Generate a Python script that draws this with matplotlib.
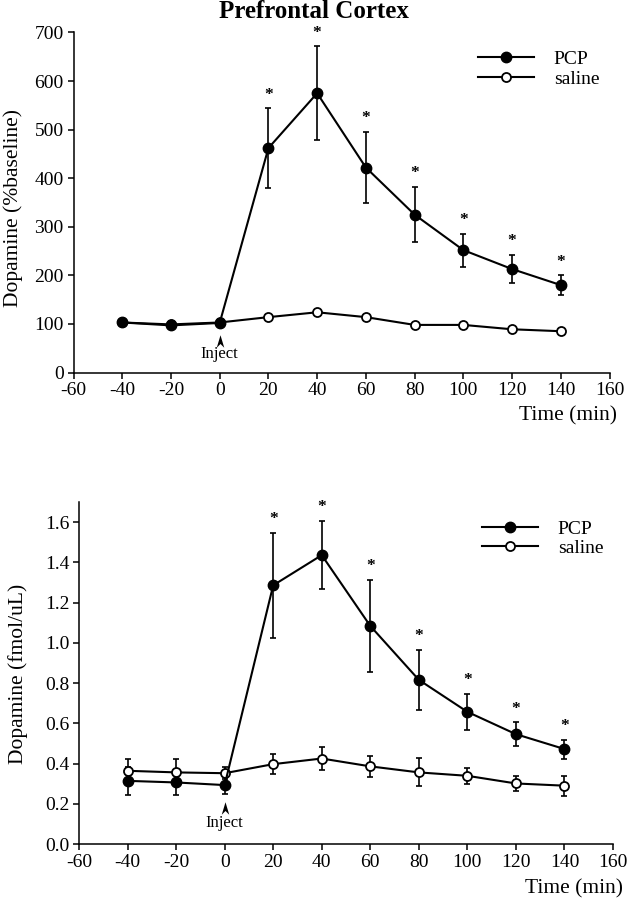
import matplotlib
matplotlib.use("Agg")
import matplotlib.pyplot as plt
import numpy as np
from matplotlib.path import Path

plt.rcParams['font.family'] = ['Liberation Serif', 'DejaVu Serif']
plt.rcParams['axes.unicode_minus'] = False

# ---- data ----
time_min = [-40, -20, 0, 20, 40, 60, 80, 100, 120, 140]

# top panel: % baseline
pcp_pct = [103, 97, 102, 462, 575, 422, 325, 252, 213, 180]
pcp_pct_err = [0, 0, 0, 82, 97, 74, 57, 34, 29, 20]
sal_pct = [103, 99, 103, 114, 124, 114, 98, 98, 89, 85]
sal_pct_err = [0, 0, 0, 0, 0, 0, 0, 0, 0, 0]
pct_stars = [20, 40, 60, 80, 100, 120, 140]

# bottom panel: fmol/uL
pcp_fmol = [0.314, 0.306, 0.293, 1.286, 1.436, 1.084, 0.816, 0.657, 0.546, 0.472]
pcp_fmol_err = [0.07, 0.06, 0.045, 0.26, 0.17, 0.23, 0.15, 0.09, 0.06, 0.047]
sal_fmol = [0.364, 0.356, 0.352, 0.397, 0.425, 0.386, 0.356, 0.339, 0.301, 0.290]
sal_fmol_err = [0.058, 0.066, 0.03, 0.05, 0.056, 0.052, 0.07, 0.041, 0.038, 0.049]
fmol_stars = [20, 40, 60, 80, 100, 120, 140]

x_ticks = np.arange(-60, 161, 20)

# chevron marker for the injection arrow
chevron = Path([(0, 1), (0.6, -1), (0, -0.4), (-0.6, -1), (0, 1)],
               [Path.MOVETO, Path.LINETO, Path.LINETO, Path.LINETO, Path.CLOSEPOLY])


def draw_panel(ax, pcp, pcp_err, sal, sal_err, stars, ylim, yticks, yfmt,
               ylabel, inject_tip, inject_text, label_pos, xlabel_pos):
    # error bars first, markers on top
    ax.errorbar(time_min, sal, yerr=sal_err, fmt='none', ecolor='black',
                elinewidth=1.2, capsize=2.5, capthick=1.2, zorder=2)
    ax.errorbar(time_min, pcp, yerr=pcp_err, fmt='none', ecolor='black',
                elinewidth=1.2, capsize=2.5, capthick=1.2, zorder=2)
    ax.plot(time_min, sal, '-o', color='black', lw=1.5, ms=6.5,
            mfc='white', mec='black', mew=1.3, label='saline', zorder=3)
    ax.plot(time_min, pcp, '-o', color='black', lw=1.5, ms=7.5,
            mfc='black', mec='black', label='PCP', zorder=4)

    # significance asterisks above upper error bars
    for t, v, e in zip(time_min, pcp, pcp_err):
        if t in stars:
            ax.annotate('*', xy=(t, v + e), xytext=(0, 4), textcoords='offset points',
                        ha='center', va='bottom', fontsize=12.5, fontweight='bold',
                        annotation_clip=False)

    # injection marker
    ax.plot([0], [inject_tip], marker=chevron, ms=9, color='black', mew=0,
            zorder=5)
    ax.text(0, inject_text, 'Inject', ha='center', va='center', fontsize=12)

    ax.set_xlim(-60, 160)
    ax.set_ylim(*ylim)
    ax.set_xticks(x_ticks)
    ax.set_yticks(yticks)
    ax.set_yticklabels([yfmt.format(v) for v in yticks])
    for side in ('top', 'right'):
        ax.spines[side].set_visible(False)
    for side in ('left', 'bottom'):
        ax.spines[side].set_linewidth(1.1)
    ax.tick_params(direction='out', length=4, width=1.1, labelsize=14, pad=3)

    ax.set_ylabel(ylabel, fontsize=15.5, va='center')
    ax.yaxis.set_label_coords(*label_pos)
    ax.set_xlabel('Time (min)', fontsize=15.5, ha='right', va='center')
    ax.xaxis.set_label_coords(*xlabel_pos)

    handles, labels = ax.get_legend_handles_labels()
    leg = ax.legend(handles[::-1], labels[::-1], loc='upper left',
                    bbox_to_anchor=(0.74, 0.97), frameon=False, fontsize=14,
                    handlelength=2.9, handletextpad=1.0, labelspacing=0.1,
                    borderaxespad=0)
    return leg


fig = plt.figure(figsize=(6.32, 9.0), dpi=100)
ax_top = fig.add_axes([0.1163, 0.5861, 0.8481, 0.3778])
ax_bot = fig.add_axes([0.1250, 0.0622, 0.8450, 0.3800])

draw_panel(ax_top, pcp_pct, pcp_pct_err, sal_pct, sal_pct_err, pct_stars,
           (0, 700), np.arange(0, 701, 100), '{:.0f}',
           'Dopamine (%baseline)', 65, 38, (-0.113, 0.485), (1.014, -0.128))
draw_panel(ax_bot, pcp_fmol, pcp_fmol_err, sal_fmol, sal_fmol_err, fmol_stars,
           (0, 1.7), np.arange(0, 1.61, 0.2), '{:.1f}',
           'Dopamine (fmol/uL)', 0.18, 0.104, (-0.114, 0.497), (1.019, -0.132))

fig.text(313.5 / 632, 1 - 12 / 900, 'Prefrontal Cortex', ha='center', va='center',
         fontsize=18, fontweight='bold')

fig.savefig('out.png', dpi=100)
